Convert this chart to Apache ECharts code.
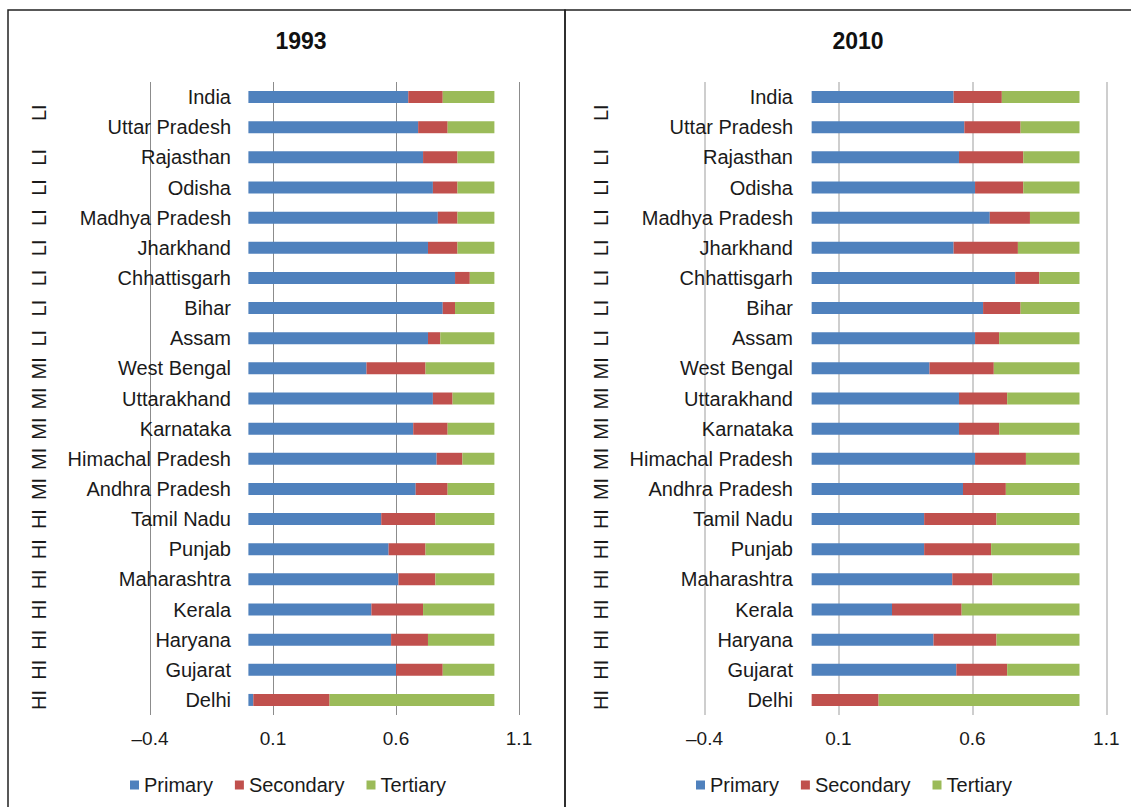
<!DOCTYPE html>
<html>
<head>
<meta charset="utf-8">
<script src="https://cdn.jsdelivr.net/npm/echarts@6/dist/echarts.min.js"></script>
<style>
html,body{margin:0;padding:0;background:#fff;}
#chart{width:1131px;height:807px;}
</style>
</head>
<body>
<div id="chart"></div>
<script>
// ---- data ----
const states = ['India','Uttar Pradesh','Rajasthan','Odisha','Madhya Pradesh','Jharkhand','Chhattisgarh','Bihar','Assam','West Bengal','Uttarakhand','Karnataka','Himachal Pradesh','Andhra Pradesh','Tamil Nadu','Punjab','Maharashtra','Kerala','Haryana','Gujarat','Delhi'];
const groups = ['','LI','LI','LI','LI','LI','LI','LI','LI','MI','MI','MI','MI','MI','HI','HI','HI','HI','HI','HI','HI'];
const seriesNames = ['Primary','Secondary','Tertiary'];
const panelTitles = ['1993','2010'];
const xTickLabels = ['–0.4','0.1','0.6','1.1'];

const primary1993   = [0.65,0.69,0.71,0.75,0.77,0.73,0.84,0.79,0.73,0.48,0.75,0.67,0.765,0.68,0.54,0.57,0.61,0.50,0.58,0.60,0.02];
const secondary1993 = [0.14,0.12,0.14,0.10,0.08,0.12,0.06,0.05,0.05,0.24,0.08,0.14,0.105,0.13,0.22,0.15,0.15,0.21,0.15,0.19,0.31];
const tertiary1993  = [0.21,0.19,0.15,0.15,0.15,0.15,0.10,0.16,0.22,0.28,0.17,0.19,0.13,0.19,0.24,0.28,0.24,0.29,0.27,0.21,0.67];

const primary2010   = [0.53,0.57,0.55,0.61,0.665,0.53,0.76,0.64,0.61,0.44,0.55,0.55,0.61,0.565,0.42,0.42,0.525,0.30,0.455,0.54,0.00];
const secondary2010 = [0.18,0.21,0.24,0.18,0.15,0.24,0.09,0.14,0.09,0.24,0.18,0.15,0.19,0.16,0.27,0.25,0.15,0.26,0.235,0.19,0.25];
const tertiary2010  = [0.29,0.22,0.21,0.21,0.185,0.23,0.15,0.22,0.30,0.32,0.27,0.30,0.20,0.275,0.31,0.33,0.325,0.44,0.31,0.27,0.75];

// ---- styling ----
const FONT = '"Liberation Sans", Arial, sans-serif';
const TXT = '#1a1a1a';
const colors = ['#4F81BD','#C0504D','#9BBB59'];
const panels = [
  {grid:{left:150, width:369, top:82, height:633}, title:301, catMargin:-81, groupOffset:111, legendLeft:125, split:{color:'#8c8c8c', width:1}},
  {grid:{left:704.5, width:401.8, top:82, height:633}, title:858, catMargin:-88.5, groupOffset:103.5, legendLeft:691, split:{color:'#c2c2c2', width:1.6}}
];
const seriesData = [[primary1993,secondary1993,tertiary1993],[primary2010,secondary2010,tertiary2010]];

const groupData = groups.map((g,i) => i === 1
  ? {value:g, textStyle:{padding:[0,0,0,29], align:'center', verticalAlign:'middle', fontFamily:FONT, fontSize:20, color:TXT}}
  : g);

const option = {
  animation:false,
  color:colors,
  textStyle:{fontFamily:FONT},
  title: panels.map((p,i) => ({
    text:panelTitles[i], left:p.title, top:29, padding:0,
    textAlign:'center', textVerticalAlign:'top',
    textStyle:{fontFamily:FONT, fontSize:23, fontWeight:'bold', color:'#111'}
  })),
  graphic:[
    {type:'rect', z:-1, shape:{x:8,y:10,width:557,height:820}, style:{fill:'none', stroke:'#222', lineWidth:1.5}},
    {type:'rect', z:-1, shape:{x:565,y:10,width:600,height:820}, style:{fill:'none', stroke:'#222', lineWidth:1.5}}
  ],
  legend: panels.map(p => ({
    data:seriesNames, left:p.legendLeft, top:770, icon:'rect', itemWidth:9, itemHeight:9, itemGap:22,
    textStyle:{fontFamily:FONT, fontSize:20, color:TXT}, selectedMode:false
  })),
  grid: panels.map(p => Object.assign({outerBoundsMode:'none', containLabel:false}, p.grid)),
  xAxis: panels.map((p,i) => ({
    gridIndex:i, type:'value', min:-0.4, max:1.1, interval:0.5,
    axisLine:{show:false}, axisTick:{show:false},
    splitLine:{show:true, lineStyle:{color:p.split.color, width:p.split.width}},
    axisLabel:{fontFamily:FONT, fontSize:19, color:TXT, margin:14,
      formatter:(v, idx) => xTickLabels[Math.round((v + 0.4) / 0.5)]}
  })),
  yAxis: [].concat(...panels.map((p,i) => ([
    {gridIndex:i, type:'category', inverse:true, position:'left', data:states,
     axisLine:{show:false, onZero:false}, axisTick:{show:false}, splitLine:{show:false},
     axisLabel:{interval:0, margin:p.catMargin, align:'right', fontFamily:FONT, fontSize:20, color:TXT}},
    {gridIndex:i, type:'category', inverse:true, position:'left', offset:p.groupOffset, data:groupData,
     axisLine:{show:false, onZero:false}, axisTick:{show:false}, splitLine:{show:false},
     axisLabel:{interval:0, rotate:90, margin:0, align:'center', verticalAlign:'middle',
       fontFamily:FONT, fontSize:20, color:TXT}}
  ]))),
  series: [].concat(...panels.map((p,i) => seriesNames.map((name,k) => ({
    name, type:'bar', stack:'s'+i, xAxisIndex:i, yAxisIndex:i*2,
    barWidth:12, data:seriesData[i][k], itemStyle:{color:colors[k]}
  }))))
};

const chart = echarts.init(document.getElementById('chart'), null, {renderer:'svg'});
chart.setOption(option);
</script>
</body>
</html>
